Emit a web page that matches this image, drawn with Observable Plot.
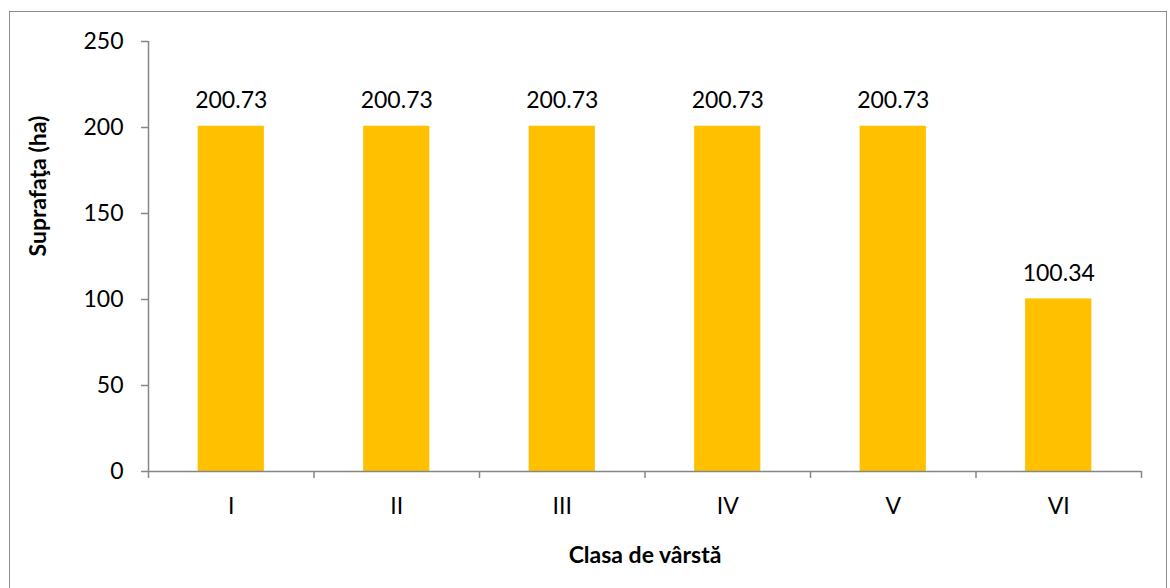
<!DOCTYPE html>
<html><head><meta charset="utf-8">
<script src="https://cdn.jsdelivr.net/npm/d3@7"></script>
<script src="https://cdn.jsdelivr.net/npm/@observablehq/plot@0.6"></script>
<style>
body{margin:0;background:#fff;}
#wrap{position:relative;width:1170px;height:588px;overflow:hidden;}
#frame{position:absolute;left:9px;top:11px;width:1158px;height:600px;border:1px solid #8c8c8c;box-sizing:border-box;}
#chart{position:absolute;left:0;top:0;}
</style></head>
<body><div id="wrap"><div id="frame"></div><div id="chart"></div></div>
<script>
const categories = ["I","II","III","IV","V","VI"];
const values = [200.73,200.73,200.73,200.73,200.73,100.34];
const yTicks = [0,50,100,150,200,250];
const yTitle = "Suprafaţa (ha)";
const xTitle = "Clasa de vârstă";

const data = categories.map((c,i)=>({cat:c, i, value:values[i]}));
const font = "Lato, 'Open Sans', sans-serif";
const axisColor = "#868686";
const fs = 23;

const chart = Plot.plot({
  width:1170, height:588,
  marginLeft:148, marginRight:29, marginTop:41, marginBottom:117,
  style:{fontFamily:font, fontSize:fs+"px", color:"#000", background:"transparent"},
  x:{type:"linear", domain:[0, categories.length]},
  y:{domain:[0,250]},
  marks:[
    Plot.rectY(data,{x1:d=>d.i+0.3, x2:d=>d.i+0.7, y:"value", fill:"#FFC000"}),
    Plot.text(data,{x:d=>d.i+0.5, y:"value", text:d=>d.value.toFixed(2), dy:-18, lineAnchor:"bottom", fontSize:fs, fill:"#000"}),
    Plot.ruleX([0],{stroke:axisColor, strokeWidth:1.5}),
    Plot.ruleY([0],{stroke:axisColor, strokeWidth:1.5}),
    Plot.axisY(yTicks,{tickSize:7, tickPadding:18, stroke:axisColor, strokeWidth:1.5, strokeOpacity:1, label:null, fontSize:fs, fill:"#000"}),
    Plot.axisX(d3.range(categories.length+1),{tickSize:7, tickFormat:()=> "", stroke:axisColor, strokeWidth:1.5, strokeOpacity:1, label:null}),
    Plot.axisX(data.map(d=>d.i+0.5),{tickSize:0, tickPadding:26, tickFormat:v=>categories[Math.floor(v)], label:null, fontSize:fs, fill:"#000"}),
    Plot.text([xTitle],{frameAnchor:"bottom", dy:91, text:d=>d, fontWeight:"bold", fontSize:fs, fill:"#000"}),
    Plot.text([yTitle],{frameAnchor:"left", dx:-110, rotate:-90, text:d=>d, fontWeight:"bold", fontSize:fs, fill:"#000"})
  ]
});
document.getElementById("chart").appendChild(chart);
</script>
</body></html>
